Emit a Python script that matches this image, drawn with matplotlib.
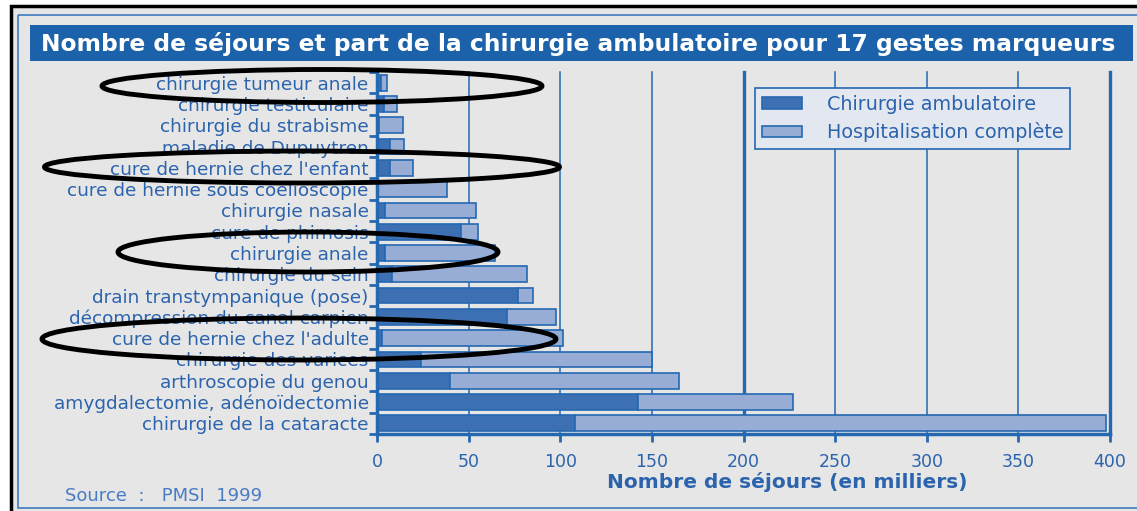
import numpy as np
import matplotlib
matplotlib.use('Agg')
import matplotlib.pyplot as plt
from matplotlib.patches import Rectangle, Ellipse

# data, listed from the top row down (milliers de sejours)
gestes = ['chirurgie tumeur anale', 'chirurgie testiculaire', 'chirurgie du strabisme',
          'maladie de Dupuytren', "cure de hernie chez l'enfant",
          'cure de hernie sous coelioscopie', 'chirurgie nasale', 'cure de phimosis',
          'chirurgie anale', 'chirurgie du sein', 'drain transtympanique (pose)',
          'décompression du canal carpien', "cure de hernie chez l'adulte",
          'chirurgie des varices', 'arthroscopie du genou',
          'amygdalectomie, adénoïdectomie', 'chirurgie de la cataracte']
ambulatoire = [2, 4, 1, 7, 7, 0.5, 4.5, 46, 4.5, 8, 77, 71, 2.5, 24, 40, 142.5, 108]
hospitalisation = [3.5, 7, 13, 8, 12.5, 37.5, 49.5, 9, 60, 74, 8, 26.5, 99, 126, 125, 84.5, 290]
xticks = [0, 50, 100, 150, 200, 250, 300, 350, 400]

W, H = 1137, 511
blue = '#1c62aa'
txtblue = '#2b63ad'
dark = '#3d70b2'
light = '#98add5'
edge = '#2468b2'
gray = '#e6e6e6'

plt.rcParams['font.family'] = ['DejaVu Sans']

fig = plt.figure(figsize=(W/100, H/100), dpi=100)
fig.patch.set_facecolor('white')

# background / frame in pixel coordinates
bg = fig.add_axes([0, 0, 1, 1], zorder=0)
bg.set_xlim(0, W)
bg.set_ylim(H, 0)
bg.axis('off')
bg.add_patch(Rectangle((11, 6), W, H, facecolor=gray, edgecolor='black', lw=2.5))
bg.add_patch(Rectangle((18, 15), W, 493, facecolor='none', edgecolor='#3f7cc0', lw=1.2))
bg.add_patch(Rectangle((30, 25), 1103, 36, facecolor=blue, edgecolor='none'))
bg.text(41, 43.5, 'Nombre de séjours et part de la chirurgie ambulatoire pour 17 gestes marqueurs',
        color='white', fontsize=16.8, fontweight='bold', va='center', ha='left')
bg.text(65, 496, 'Source  :   PMSI  1999', color='#4a7cc4', fontsize=13, va='center', ha='left')

# main chart
ax = fig.add_axes([377/W, 1-434/H, 733/W, 362/H], zorder=1)
ax.set_facecolor('none')
y = np.arange(len(gestes))
for v in xticks:
    ax.axvline(v, color=edge, lw=2.4 if v in (200, 400) else 1.1, zorder=1, clip_on=False)
ax.barh(y, ambulatoire, height=0.74, color=dark, edgecolor=edge, lw=1.2,
        label='Chirurgie ambulatoire', zorder=2)
ax.barh(y, hospitalisation, left=ambulatoire, height=0.74, color=light, edgecolor=edge,
        lw=1.2, label='Hospitalisation complète', zorder=2)

ax.set_xlim(0, 400)
ax.set_ylim(len(gestes)-0.5, -0.5)
ax.set_yticks(y)
ax.set_yticklabels(gestes, color=txtblue, fontsize=13.3)
ax.set_yticks(np.arange(len(gestes)+1)-0.5, minor=True)
ax.tick_params(axis='y', which='major', length=0, pad=6)
ax.tick_params(axis='y', which='minor', length=6, width=2, color=edge)
ax.set_xticks(xticks)
ax.set_xticklabels([str(v) for v in xticks], color=txtblue, fontsize=12.5)
ax.tick_params(axis='x', length=6, width=2, color=edge, pad=8)
ax.set_xlabel('Nombre de séjours (en milliers)', color=txtblue, fontsize=14.5,
              fontweight='bold')
ax.xaxis.set_label_coords(0.56, -0.105)
for s in ['top', 'right']:
    ax.spines[s].set_visible(False)
ax.spines['left'].set_color(edge)
ax.spines['left'].set_linewidth(2.5)
ax.spines['bottom'].set_color(edge)
ax.spines['bottom'].set_linewidth(2.5)

leg = ax.legend(loc='upper left', bbox_to_anchor=(755/W, 1-88/H), bbox_transform=fig.transFigure,
                borderaxespad=0, fancybox=False, edgecolor=edge, facecolor='#e3e7f0',
                framealpha=1, fontsize=13.8, labelcolor=txtblue, handlelength=2.1,
                handleheight=0.55, labelspacing=0.45, borderpad=0.35, handletextpad=1.3)
leg.get_frame().set_linewidth(1.2)

# hand drawn ellipses on top
top = fig.add_axes([0, 0, 1, 1], zorder=3)
top.set_xlim(0, W)
top.set_ylim(H, 0)
top.axis('off')
for cx, cy, w, h in [(322, 86, 440, 33), (302, 167, 515, 32), (308, 252, 380, 40), (299, 339, 514, 42)]:
    top.add_patch(Ellipse((cx, cy), w, h, facecolor='none', edgecolor='black', lw=3.5))

fig.savefig('out.png', dpi=100)
